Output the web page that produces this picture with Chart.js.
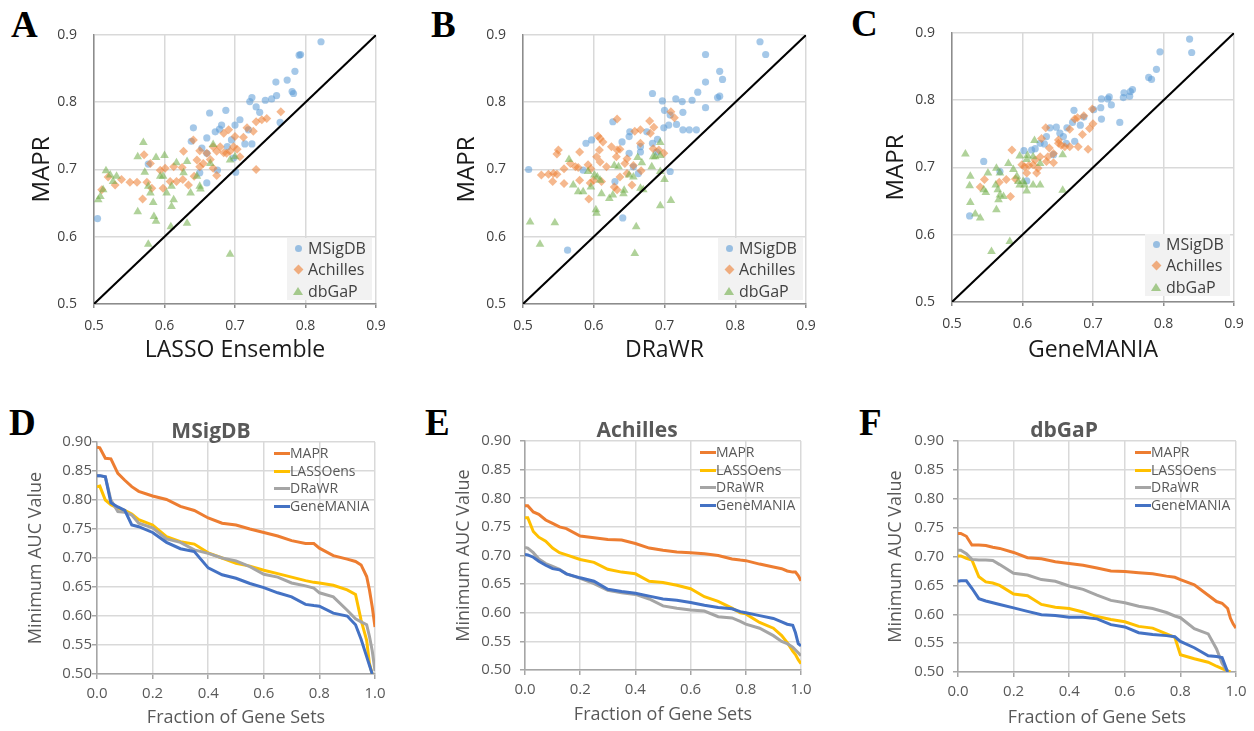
<!DOCTYPE html>
<html>
<head>
<meta charset="utf-8">
<script src="https://cdn.jsdelivr.net/npm/chart.js@4.4.0/dist/chart.umd.min.js"></script>
<style>
body { margin:0; background:#fff; width:1254px; height:731px; position:relative; overflow:hidden; font-family:"Open Sans", sans-serif; }
canvas { position:absolute; }
.letter { position:absolute; font-family:"Liberation Serif", serif; font-weight:bold; font-size:37px; line-height:37px; color:#000; }
.ptitle { position:absolute; font-weight:bold; font-size:21px; line-height:26px; color:#595959; transform:translateX(-50%); white-space:nowrap; }
.sleg { position:absolute; background:#f2f2f2; width:85px; height:62px; }
.sleg .txt { position:absolute; left:21px; font-size:16px; line-height:20px; color:#404040; }
.mk { position:absolute; }
.circ { width:7px; height:7px; border-radius:50%; background:rgba(91,155,213,0.6); left:8px; }
.diam { width:7px; height:7px; background:rgba(237,125,49,0.6); transform:rotate(45deg); left:8px; }
.tri { width:0; height:0; border-left:5px solid transparent; border-right:5px solid transparent; border-bottom:8px solid rgba(112,173,71,0.6); left:6px; }
.lleg { position:absolute; }
.lleg .it { position:absolute; left:0; height:18px; white-space:nowrap; }
.lleg .sw { position:absolute; left:0; top:8px; width:16px; height:3px; }
.lleg .tx { position:absolute; left:16px; top:0; font-size:14px; line-height:18px; color:#595959; }
</style>
</head>
<body>

<div class="letter" style="left:11px;top:6px">A</div>
<div class="letter" style="left:431px;top:6px">B</div>
<div class="letter" style="left:851px;top:5px">C</div>
<div class="letter" style="left:9px;top:404px">D</div>
<div class="letter" style="left:425px;top:404px">E</div>
<div class="letter" style="left:859px;top:404px">F</div>

<canvas id="chA" width="420" height="380" style="left:0;top:0"></canvas>
<canvas id="chB" width="420" height="380" style="left:420px;top:0"></canvas>
<canvas id="chC" width="414" height="380" style="left:840px;top:0"></canvas>
<canvas id="chD" width="420" height="341" style="left:0;top:390px"></canvas>
<canvas id="chE" width="420" height="341" style="left:420px;top:390px"></canvas>
<canvas id="chF" width="414" height="341" style="left:840px;top:390px"></canvas>

<div class="ptitle" style="left:211px;top:417px">MSigDB</div>
<div class="ptitle" style="left:637px;top:416px">Achilles</div>
<div class="ptitle" style="left:1064px;top:416px">dbGaP</div>

<div id="legA" class="sleg" style="left:287px;top:238px"></div>
<div id="legB" class="sleg" style="left:718px;top:238px"></div>
<div id="legC" class="sleg" style="left:1145px;top:234px"></div>

<div id="legD" class="lleg" style="left:274px;top:444px"></div>
<div id="legE" class="lleg" style="left:700px;top:443px"></div>
<div id="legF" class="lleg" style="left:1135px;top:443px"></div>

<script>
// ---- scatter data (x = other method, y = MAPR) ----
var msigA = [[0.822,0.890],[0.793,0.871],[0.791,0.870],[0.785,0.846],[0.774,0.833],[0.758,0.830],[0.781,0.816],[0.783,0.813],[0.759,0.810],[0.752,0.805],[0.743,0.803],[0.724,0.807],[0.721,0.801],[0.730,0.793],[0.735,0.785],[0.764,0.770],[0.707,0.774],[0.700,0.766],[0.687,0.788],[0.664,0.784],[0.641,0.762],[0.681,0.766],[0.678,0.760],[0.672,0.756],[0.660,0.747],[0.638,0.742],[0.695,0.744],[0.714,0.738],[0.724,0.738],[0.719,0.759],[0.653,0.732],[0.660,0.724],[0.650,0.695],[0.660,0.680],[0.675,0.699],[0.701,0.696],[0.698,0.717],[0.577,0.708],[0.505,0.627],[0.689,0.734]];
var achA = [[0.765,0.786],[0.745,0.776],[0.738,0.774],[0.730,0.771],[0.717,0.762],[0.726,0.757],[0.691,0.759],[0.684,0.754],[0.712,0.748],[0.700,0.749],[0.641,0.744],[0.669,0.734],[0.679,0.734],[0.698,0.734],[0.703,0.730],[0.674,0.727],[0.684,0.725],[0.688,0.724],[0.693,0.727],[0.627,0.727],[0.650,0.728],[0.660,0.724],[0.707,0.719],[0.646,0.714],[0.655,0.709],[0.665,0.715],[0.571,0.722],[0.580,0.709],[0.601,0.702],[0.613,0.704],[0.625,0.703],[0.650,0.704],[0.669,0.702],[0.730,0.700],[0.594,0.699],[0.608,0.682],[0.617,0.682],[0.626,0.685],[0.634,0.677],[0.642,0.690],[0.674,0.691],[0.598,0.672],[0.575,0.681],[0.551,0.681],[0.561,0.681],[0.539,0.685],[0.530,0.677],[0.520,0.689],[0.511,0.670],[0.569,0.656],[0.582,0.672]];
var dbgA = [[0.570,0.740],[0.562,0.719],[0.588,0.718],[0.600,0.721],[0.572,0.696],[0.594,0.690],[0.617,0.710],[0.632,0.712],[0.603,0.665],[0.610,0.675],[0.613,0.655],[0.610,0.645],[0.580,0.665],[0.577,0.675],[0.584,0.651],[0.562,0.637],[0.585,0.630],[0.588,0.623],[0.609,0.615],[0.632,0.620],[0.637,0.665],[0.650,0.675],[0.651,0.671],[0.577,0.589],[0.693,0.574],[0.517,0.698],[0.523,0.692],[0.509,0.660],[0.506,0.655],[0.513,0.670],[0.527,0.682],[0.532,0.690],[0.665,0.709],[0.693,0.714],[0.700,0.719],[0.669,0.737],[0.646,0.690],[0.627,0.695],[0.598,0.690]];

var msigB = [[0.835,0.890],[0.843,0.871],[0.758,0.871],[0.778,0.846],[0.782,0.834],[0.758,0.830],[0.747,0.815],[0.778,0.809],[0.775,0.807],[0.683,0.813],[0.697,0.802],[0.716,0.805],[0.725,0.801],[0.739,0.803],[0.758,0.792],[0.700,0.788],[0.726,0.785],[0.708,0.781],[0.717,0.767],[0.699,0.762],[0.706,0.766],[0.726,0.759],[0.735,0.759],[0.745,0.759],[0.627,0.771],[0.651,0.756],[0.650,0.749],[0.675,0.756],[0.640,0.741],[0.683,0.739],[0.690,0.745],[0.589,0.739],[0.597,0.744],[0.666,0.734],[0.650,0.724],[0.666,0.726],[0.689,0.726],[0.708,0.697],[0.663,0.694],[0.656,0.704],[0.585,0.699],[0.508,0.700],[0.641,0.628],[0.563,0.580],[0.630,0.682]];
var achB = [[0.709,0.786],[0.714,0.777],[0.633,0.775],[0.679,0.772],[0.685,0.763],[0.680,0.754],[0.666,0.759],[0.658,0.757],[0.606,0.750],[0.609,0.746],[0.613,0.741],[0.625,0.734],[0.633,0.729],[0.637,0.730],[0.550,0.729],[0.548,0.723],[0.580,0.726],[0.608,0.729],[0.666,0.739],[0.684,0.731],[0.692,0.729],[0.699,0.724],[0.647,0.716],[0.632,0.719],[0.604,0.719],[0.609,0.711],[0.567,0.709],[0.574,0.704],[0.578,0.703],[0.558,0.701],[0.592,0.707],[0.596,0.701],[0.618,0.704],[0.644,0.709],[0.656,0.706],[0.667,0.698],[0.526,0.692],[0.536,0.693],[0.543,0.694],[0.548,0.693],[0.542,0.682],[0.558,0.679],[0.580,0.684],[0.595,0.680],[0.600,0.684],[0.611,0.682],[0.633,0.670],[0.629,0.674],[0.593,0.656],[0.654,0.677],[0.637,0.689],[0.647,0.694]];
var dbgB = [[0.694,0.740],[0.694,0.721],[0.684,0.719],[0.662,0.718],[0.668,0.710],[0.565,0.715],[0.629,0.706],[0.635,0.704],[0.682,0.704],[0.694,0.697],[0.592,0.697],[0.601,0.692],[0.605,0.689],[0.609,0.684],[0.571,0.677],[0.578,0.667],[0.585,0.667],[0.596,0.674],[0.611,0.664],[0.622,0.657],[0.627,0.662],[0.643,0.669],[0.642,0.664],[0.650,0.692],[0.656,0.689],[0.666,0.672],[0.670,0.670],[0.700,0.685],[0.709,0.654],[0.694,0.646],[0.604,0.635],[0.603,0.640],[0.660,0.615],[0.658,0.575],[0.510,0.622],[0.545,0.621],[0.524,0.589],[0.687,0.719]];

var msigC = [[0.837,0.891],[0.840,0.871],[0.795,0.872],[0.790,0.846],[0.779,0.834],[0.783,0.831],[0.756,0.816],[0.753,0.813],[0.744,0.811],[0.743,0.804],[0.752,0.806],[0.723,0.805],[0.721,0.802],[0.712,0.802],[0.726,0.793],[0.711,0.789],[0.701,0.786],[0.673,0.785],[0.712,0.772],[0.738,0.767],[0.687,0.775],[0.682,0.763],[0.663,0.759],[0.671,0.767],[0.648,0.760],[0.639,0.759],[0.653,0.751],[0.658,0.746],[0.634,0.746],[0.674,0.739],[0.662,0.736],[0.631,0.735],[0.618,0.728],[0.613,0.726],[0.602,0.725],[0.644,0.719],[0.545,0.709],[0.568,0.694],[0.606,0.680],[0.525,0.628],[0.625,0.736]];
var achC = [[0.699,0.787],[0.700,0.765],[0.695,0.758],[0.678,0.774],[0.674,0.772],[0.687,0.777],[0.667,0.757],[0.685,0.749],[0.633,0.759],[0.627,0.743],[0.651,0.736],[0.655,0.733],[0.660,0.731],[0.667,0.731],[0.679,0.731],[0.693,0.727],[0.638,0.729],[0.644,0.721],[0.636,0.716],[0.625,0.716],[0.618,0.711],[0.644,0.707],[0.634,0.709],[0.615,0.704],[0.609,0.703],[0.603,0.701],[0.599,0.704],[0.585,0.726],[0.620,0.692],[0.606,0.692],[0.577,0.682],[0.590,0.683],[0.546,0.682],[0.540,0.671],[0.567,0.678],[0.583,0.657],[0.622,0.699],[0.651,0.741]];
var dbgC = [[0.519,0.720],[0.617,0.740],[0.596,0.717],[0.657,0.719],[0.607,0.718],[0.606,0.712],[0.526,0.687],[0.525,0.673],[0.526,0.648],[0.533,0.631],[0.540,0.625],[0.545,0.667],[0.548,0.663],[0.551,0.692],[0.563,0.699],[0.568,0.692],[0.562,0.674],[0.565,0.667],[0.568,0.659],[0.566,0.652],[0.573,0.657],[0.563,0.637],[0.580,0.706],[0.587,0.697],[0.592,0.687],[0.594,0.679],[0.601,0.679],[0.596,0.674],[0.603,0.674],[0.606,0.665],[0.615,0.674],[0.625,0.674],[0.625,0.706],[0.615,0.716],[0.657,0.666],[0.582,0.590],[0.556,0.575]];

var diagonal = [[0.5,0.5],[0.9,0.9]];
var scatterTicks = [0.5, 0.6, 0.7, 0.8, 0.9];

// ---- line data: minimum AUC vs fraction of gene sets ----
var fracs = [0, 0.01, 0.03, 0.05, 0.075, 0.1, 0.125, 0.15, 0.2, 0.25, 0.3, 0.35, 0.4, 0.45, 0.5, 0.55, 0.6, 0.65, 0.7, 0.75, 0.78, 0.8, 0.85, 0.9, 0.93, 0.95, 0.97, 0.98, 0.99, 1.0];
var methods = ["MAPR", "LASSOens", "DRaWR", "GeneMANIA"];

var mapD  = [0.891,0.890,0.872,0.871,0.846,0.834,0.823,0.815,0.807,0.801,0.789,0.782,0.769,0.760,0.757,0.750,0.744,0.738,0.730,0.725,0.725,0.717,0.704,0.698,0.694,0.688,0.668,0.645,0.616,0.581];
var lasD  = [0.823,0.824,0.800,0.792,0.786,0.782,0.776,0.766,0.757,0.737,0.728,0.724,0.709,0.700,0.691,0.686,0.679,0.673,0.667,0.661,0.658,0.657,0.653,0.645,0.637,0.593,0.558,0.518,0.500,null];
var drwD  = [0.842,0.842,0.840,0.800,0.780,0.779,0.774,0.760,0.752,0.733,0.727,0.714,0.708,0.700,0.695,0.685,0.672,0.667,0.657,0.652,0.648,0.640,0.633,0.610,0.595,0.590,0.585,0.565,0.540,0.505];
var genD  = [0.842,0.842,0.840,0.795,0.788,0.782,0.757,0.754,0.744,0.727,0.716,0.711,0.683,0.671,0.665,0.656,0.649,0.640,0.633,0.620,0.618,0.617,0.605,0.600,0.585,0.560,0.530,0.515,0.500,null];

var mapE  = [0.787,0.787,0.776,0.772,0.762,0.756,0.750,0.747,0.734,0.731,0.728,0.727,0.721,0.713,0.709,0.706,0.705,0.703,0.700,0.694,0.692,0.691,0.685,0.680,0.677,0.673,0.671,0.671,0.665,0.656];
var lasE  = [0.766,0.766,0.742,0.732,0.725,0.713,0.705,0.701,0.693,0.688,0.676,0.671,0.668,0.655,0.653,0.648,0.642,0.628,0.620,0.608,0.600,0.598,0.583,0.573,0.560,0.548,0.533,0.527,0.518,0.511];
var drwE  = [0.714,0.713,0.705,0.694,0.686,0.681,0.676,0.668,0.660,0.651,0.639,0.635,0.632,0.624,0.612,0.608,0.605,0.603,0.593,0.591,0.585,0.580,0.573,0.560,0.550,0.546,0.540,0.535,0.530,0.525];
var genE  = [0.702,0.701,0.697,0.690,0.683,0.677,0.675,0.668,0.661,0.655,0.641,0.637,0.634,0.629,0.624,0.622,0.618,0.613,0.609,0.607,0.602,0.600,0.595,0.590,0.584,0.580,0.578,0.565,0.546,0.542];

var mapF  = [0.740,0.740,0.735,0.720,0.720,0.719,0.716,0.714,0.707,0.698,0.696,0.691,0.688,0.685,0.680,0.675,0.674,0.672,0.670,0.666,0.664,0.660,0.651,0.633,0.622,0.619,0.610,0.593,0.583,0.576];
var lasF  = [0.701,0.701,0.697,0.694,0.665,0.656,0.654,0.650,0.635,0.632,0.617,0.612,0.610,0.604,0.596,0.591,0.587,0.579,0.576,0.566,0.560,0.530,0.523,0.517,0.510,0.506,0.502,0.500,null,null];
var drwF  = [0.711,0.711,0.705,0.695,0.694,0.694,0.693,0.686,0.671,0.668,0.660,0.657,0.649,0.643,0.633,0.624,0.620,0.614,0.610,0.603,0.597,0.594,0.575,0.566,0.540,0.515,0.500,null,null,null];
var genF  = [0.657,0.658,0.658,0.645,0.627,0.623,0.620,0.617,0.611,0.605,0.599,0.598,0.595,0.595,0.592,0.582,0.578,0.568,0.565,0.563,0.561,0.553,0.542,0.528,0.527,0.525,0.500,null,null,null];

var lineColors = ["#ED7D31", "#FFC000", "#A5A5A5", "#4472C4"];

Chart.defaults.font.family = '"Open Sans", sans-serif';
Chart.defaults.animation = false;

function pts(arr) {
    return arr.map(function(p) { return { x: p[0], y: p[1] }; });
}

function makeScatter(id, ms, ac, db, xTitle, cfg) {
    var ctx = document.getElementById(id).getContext('2d');
    return new Chart(ctx, {
        type: 'scatter',
        data: {
            datasets: [
                { type: 'line', data: pts(diagonal), borderColor: '#000', borderWidth: 2, pointRadius: 0, order: 0 },
                { label: 'dbGaP', data: pts(db), pointStyle: 'triangle', pointRadius: 5, backgroundColor: 'rgba(112,173,71,0.55)', borderWidth: 0, order: 1 },
                { label: 'Achilles', data: pts(ac), pointStyle: 'rectRot', pointRadius: 4.5, backgroundColor: 'rgba(237,125,49,0.55)', borderWidth: 0, order: 2 },
                { label: 'MSigDB', data: pts(ms), pointStyle: 'circle', pointRadius: 3.6, backgroundColor: 'rgba(91,155,213,0.55)', borderWidth: 0, order: 3 }
            ]
        },
        options: {
            responsive: false,
            devicePixelRatio: 1,
            layout: { padding: { top: cfg.top, right: cfg.right, left: 0, bottom: 0 } },
            plugins: { legend: { display: false }, tooltip: { enabled: false } },
            scales: {
                x: {
                    type: 'linear', min: 0.5, max: 0.9,
                    afterBuildTicks: function(s) { s.ticks = scatterTicks.map(function(v) { return { value: v }; }); },
                    afterFit: function(s) { s.height = cfg.xh; },
                    ticks: { color: '#404040', font: { size: 14 }, padding: 10, callback: function(v) { return v.toFixed(1); } },
                    grid: { color: '#d9d9d9', lineWidth: 1.5, tickLength: 4, tickColor: '#8c8c8c' },
                    border: { color: '#8c8c8c', width: 1.5 },
                    title: { display: true, text: xTitle, color: '#1a1a1a', font: { size: 23 }, padding: { top: 0, bottom: 16 } }
                },
                y: {
                    type: 'linear', min: 0.5, max: 0.9,
                    afterBuildTicks: function(s) { s.ticks = scatterTicks.map(function(v) { return { value: v }; }); },
                    afterFit: function(s) { s.width = cfg.yw; },
                    ticks: { color: '#404040', font: { size: 14 }, padding: 17, callback: function(v) { return v.toFixed(1); } },
                    grid: { color: '#d9d9d9', lineWidth: 1.5, drawTicks: false },
                    border: { color: '#8c8c8c', width: 1.5 },
                    title: { display: true, text: 'MAPR', color: '#1a1a1a', font: { size: 24 }, padding: { top: cfg.yt, bottom: 0 } }
                }
            }
        }
    });
}

function makeLines(id, series, cfg) {
    var ctx = document.getElementById(id).getContext('2d');
    var sets = series.map(function(vals, i) {
        return {
            label: methods[i],
            data: fracs.map(function(f, j) { return { x: f, y: vals[j] }; }),
            borderColor: lineColors[i],
            borderWidth: 3,
            pointRadius: 0,
            tension: 0,
            spanGaps: false,
            order: 4 - i
        };
    });
    return new Chart(ctx, {
        type: 'line',
        data: { datasets: sets },
        options: {
            responsive: false,
            devicePixelRatio: 1,
            layout: { padding: { top: cfg.top, right: cfg.right, left: 0, bottom: 0 } },
            plugins: { legend: { display: false }, tooltip: { enabled: false } },
            scales: {
                x: {
                    type: 'linear', min: 0, max: 1,
                    afterFit: function(s) { s.height = cfg.xh; },
                    ticks: { stepSize: 0.2, color: '#595959', font: { size: 15 }, padding: 6, callback: function(v) { return v.toFixed(1); } },
                    grid: { color: '#d9d9d9', lineWidth: 1.5, tickLength: 5, tickColor: '#a6a6a6' },
                    border: { color: '#a6a6a6', width: 1.5 },
                    title: { display: true, text: 'Fraction of Gene Sets', color: '#595959', font: { size: 18 }, padding: { top: 0, bottom: cfg.xt } }
                },
                y: {
                    type: 'linear', min: 0.5, max: 0.9,
                    afterFit: function(s) { s.width = cfg.yw; },
                    ticks: { stepSize: 0.05, color: '#595959', font: { size: 15 }, padding: cfg.yp, callback: function(v) { return v.toFixed(2); } },
                    grid: { color: '#d9d9d9', lineWidth: 1.5, tickLength: 5, tickColor: '#a6a6a6' },
                    border: { color: '#a6a6a6', width: 1.5 },
                    title: { display: true, text: 'Minimum AUC Value', color: '#595959', font: { size: 18 }, padding: { top: cfg.yt, bottom: 0 } }
                }
            }
        }
    });
}

makeScatter('chA', msigA, achA, dbgA, 'LASSO Ensemble', { top: 35, right: 44, xh: 76, yw: 94, yt: 28 });
makeScatter('chB', msigB, achB, dbgB, 'DRaWR', { top: 35, right: 34, xh: 76, yw: 103, yt: 33 });
makeScatter('chC', msigC, achC, dbgC, 'GeneMANIA', { top: 33, right: 20, xh: 78, yw: 112, yt: 42 });

makeLines('chD', [mapD, lasD, drwD, genD], { top: 52, right: 45, xh: 57, yw: 97, yp: 0, yt: 25, xt: 2 });
makeLines('chE', [mapE, lasE, drwE, genE], { top: 51, right: 39, xh: 61, yw: 105, yp: 9, yt: 33, xt: 5 });
makeLines('chF', [mapF, lasF, drwF, genF], { top: 51, right: 18, xh: 59, yw: 118, yp: 9, yt: 45, xt: 2 });

// legends
function scatterLegend(id) {
    var el = document.getElementById(id);
    var items = [['MSigDB', 'circ', 7], ['Achilles', 'diam', 28], ['dbGaP', 'tri', 49]];
    var tops = [0, 21, 43];
    items.forEach(function(it, i) {
        var m = document.createElement('div');
        m.className = 'mk ' + it[1];
        m.style.top = it[2] + 'px';
        el.appendChild(m);
        var t = document.createElement('div');
        t.className = 'txt';
        t.style.top = tops[i] + 'px';
        t.textContent = it[0];
        el.appendChild(t);
    });
}
scatterLegend('legA');
scatterLegend('legB');
scatterLegend('legC');

function lineLegend(id) {
    var el = document.getElementById(id);
    methods.forEach(function(name, i) {
        var it = document.createElement('div');
        it.className = 'it';
        it.style.top = (i * 17.6) + 'px';
        it.innerHTML = '<div class="sw" style="background:' + lineColors[i] + '"></div><div class="tx">' + name + '</div>';
        el.appendChild(it);
    });
}
lineLegend('legD');
lineLegend('legE');
lineLegend('legF');
</script>
</body>
</html>
